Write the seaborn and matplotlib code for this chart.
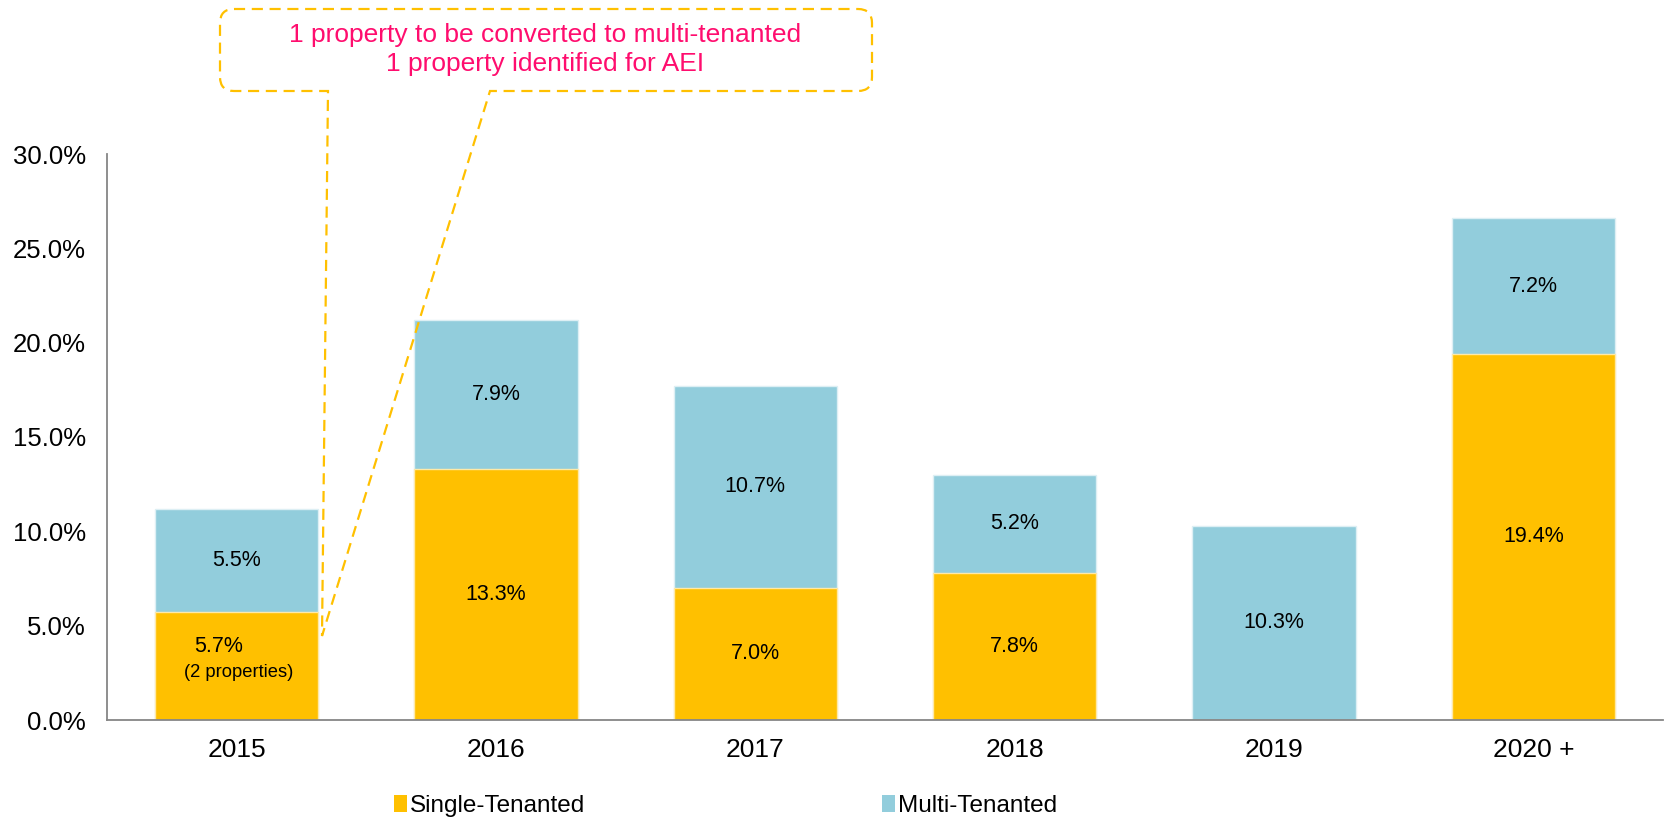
import numpy as np
import seaborn as sns
import matplotlib.pyplot as plt
from matplotlib.path import Path
from matplotlib.patches import PathPatch, Patch
from matplotlib.ticker import FixedLocator

years = ['2015', '2016', '2017', '2018', '2019', '2020 +']
single = [5.7, 13.3, 7.0, 7.8, 0.0, 19.4]
multi = [5.5, 7.9, 10.7, 5.2, 10.3, 7.2]
y_ticks = [0, 5, 10, 15, 20, 25, 30]
callout_lines = ['1 property to be converted to multi-tenanted',
                 '1 property identified for AEI']

yellow = '#FFC000'
blue = '#92CDDC'
pink = '#FF0D6E'

sns.set_style('white')
plt.rcParams['font.family'] = ['Liberation Sans', 'DejaVu Sans']
plt.rcParams['text.color'] = 'black'
plt.rcParams['xtick.labelcolor'] = 'black'
plt.rcParams['ytick.labelcolor'] = 'black'

W, H = 1667, 818
fig = plt.figure(figsize=(W / 100, H / 100), dpi=100)
ax = fig.add_axes([107 / W, (H - 720) / H, (1663 - 107) / W, (720 - 154) / H])

totals = [s + m for s, m in zip(single, multi)]

# stacked look: total bar in blue, single bar drawn over it
sns.barplot(x=years, y=totals, color=blue, width=0.63, saturation=1,
            edgecolor='#DDEFF4', linewidth=1, ax=ax)
sns.barplot(x=years, y=single, color=yellow, width=0.63, saturation=1,
            edgecolor='#FFE9A8', linewidth=1, ax=ax)

# segment labels
for i, (s, m) in enumerate(zip(single, multi)):
    if s > 0:
        if i == 0:
            ax.annotate(f'{s:.1f}%', (i, s / 2), xytext=(-18, 20), textcoords='offset pixels',
                        ha='center', va='center', fontsize=15.5)
            ax.annotate('(2 properties)', (i, s / 2), xytext=(2, -6), textcoords='offset pixels',
                        ha='center', va='center', fontsize=13.2)
        else:
            ax.text(i, s / 2, f'{s:.1f}%', ha='center', va='center', fontsize=15.5)
    if m > 0:
        ax.text(i, s + m / 2, f'{m:.1f}%', ha='center', va='center', fontsize=15.5)

ax.set_xlim(-0.5, len(years) - 0.5)
ax.set_ylim(0, 30)
ax.set_yticks(y_ticks)
ax.set_yticklabels([f'{t:.1f}%' for t in y_ticks], fontsize=18.5)
ax.set_xticks(range(len(years)))
ax.set_xticklabels(years, fontsize=19)
ax.xaxis.set_minor_locator(FixedLocator(np.arange(-0.5, len(years), 1.0)))
ax.tick_params(axis='x', which='major', length=0, pad=13)
ax.tick_params(axis='x', which='minor', length=7, width=1.2, color='#868686', direction='out')
ax.tick_params(axis='y', length=7, width=1.2, color='#868686', direction='out', pad=8)
ax.set_xlabel('')
ax.set_ylabel('')
sns.despine(ax=ax, top=True, right=True)
for side in ['left', 'bottom']:
    ax.spines[side].set_color('#868686')
    ax.spines[side].set_linewidth(1.3)

# callout box with pointer to the 2015 bar (pixel coords, top-left origin)
x0, x1, y0, y1, r = 220, 872, 9, 91, 14
tip = (322, 636)
pts = [(x0 + r, y0), (x1 - r, y0), (x1, y0), (x1, y0 + r), (x1, y1 - r), (x1, y1), (x1 - r, y1),
       (490, y1), tip, (328, y1), (x0 + r, y1), (x0, y1), (x0, y1 - r), (x0, y0 + r), (x0, y0),
       (x0 + r, y0)]
codes = [Path.MOVETO, Path.LINETO, Path.CURVE3, Path.CURVE3, Path.LINETO, Path.CURVE3, Path.CURVE3,
         Path.LINETO, Path.LINETO, Path.LINETO, Path.LINETO, Path.CURVE3, Path.CURVE3, Path.LINETO,
         Path.CURVE3, Path.CURVE3]
verts = [(x / W, (H - y) / H) for x, y in pts]
callout = PathPatch(Path(verts, codes), transform=fig.transFigure, facecolor='none',
                    edgecolor=yellow, linewidth=1.6, linestyle=(0, (5, 3)), clip_on=False)
fig.add_artist(callout)
fig.text(545 / W, (H - 35) / H, callout_lines[0], color=pink, fontsize=19, ha='center', va='center')
fig.text(545 / W, (H - 64) / H, callout_lines[1], color=pink, fontsize=19, ha='center', va='center')

handles = [Patch(facecolor=yellow, edgecolor='none', label='Single-Tenanted'),
           Patch(facecolor=blue, edgecolor='none', label='Multi-Tenanted')]
fig.legend(handles=handles, loc='center left', bbox_to_anchor=(394 / W, 1 - 806 / H), ncol=2,
           frameon=False, fontsize=17.5, handlelength=0.55, handleheight=0.7, handletextpad=0.12,
           columnspacing=12.2, borderpad=0, borderaxespad=0)

fig.savefig('out.png', dpi=100)
